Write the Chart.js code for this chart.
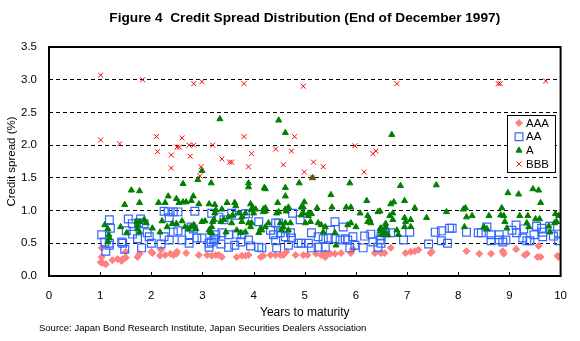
<!DOCTYPE html>
<html>
<head>
<meta charset="utf-8">
<script src="https://cdn.jsdelivr.net/npm/chart.js@4.4.1/dist/chart.umd.min.js"></script>
<style>
  body { margin: 0; background: #fff; }
  #wrap { width: 580px; height: 341px; }
</style>
</head>
<body>
<div id="wrap"><canvas id="chart" width="580" height="341"></canvas></div>
<script>
const chartTitle = 'Figure 4  Credit Spread Distribution (End of December 1997)';
const sourceNote = 'Source: Japan Bond Research Institute, Japan Securities Dealers Association';
const xTitle = 'Years to maturity';
const yTitle = 'Credit spread (%)';
const ratings = ['AAA', 'AA', 'A', 'BBB'];
const yTicks = [0, 0.5, 1.0, 1.5, 2.0, 2.5, 3.0, 3.5];

// [years to maturity, spread %]
const aaaPoints = [
  [1.01,0.21],[1.03,0.43],[1.03,0.29],[1.05,0.20],[1.11,0.18],[1.24,0.24],[1.34,0.26],[1.42,0.23],
  [1.44,0.26],[1.50,0.28],[1.50,0.37],[1.73,0.29],[1.77,0.34],[2.00,0.37],[2.02,0.35],[2.17,0.31],
  [2.19,0.40],[2.27,0.32],[2.37,0.34],[2.43,0.32],[2.49,0.34],[2.50,0.37],[2.68,0.35],[2.93,0.32],
  [3.09,0.32],[3.18,0.31],[3.26,0.32],[3.32,0.32],[3.38,0.29],[3.67,0.29],[3.77,0.31],[3.84,0.31],
  [3.90,0.32],[4.14,0.29],[4.19,0.31],[4.33,0.32],[4.43,0.32],[4.52,0.32],[4.58,0.32],[4.64,0.37],
  [4.82,0.32],[4.97,0.32],[5.05,0.32],[5.22,0.34],[5.32,0.32],[5.40,0.35],[5.40,0.29],[5.50,0.34],
  [5.59,0.34],[5.71,0.35],[5.90,0.35],[5.94,0.41],[6.37,0.35],[6.49,0.35],[6.56,0.35],[6.68,0.43],
  [6.97,0.35],[7.07,0.37],[7.15,0.38],[7.22,0.40],[7.46,0.35],[7.48,0.37],[8.16,0.38],[8.41,0.34],
  [8.64,0.34],[8.87,0.38],[8.89,0.34],[9.13,0.41],[9.30,0.32],[9.34,0.34],[9.55,0.29],[9.57,0.46],
  [9.61,0.29],[9.94,0.31],[9.96,0.29]
];

const aaPoints = [
  [1.03,0.63],[1.09,0.52],[1.11,0.38],[1.18,0.86],[1.18,0.50],[1.18,0.47],[1.20,0.73],[1.42,0.52],
  [1.44,0.50],[1.48,0.41],[1.51,0.69],[1.55,0.87],[1.63,0.80],[1.63,0.64],[1.73,0.57],[1.75,0.81],
  [1.79,0.87],[1.81,0.43],[1.86,0.80],[1.92,0.66],[1.96,0.60],[2.00,0.50],[2.19,0.49],[2.25,0.99],
  [2.25,0.60],[2.33,0.98],[2.35,0.89],[2.35,0.55],[2.43,0.98],[2.43,0.67],[2.52,0.98],[2.52,0.69],
  [2.60,0.55],[2.74,0.50],[2.74,0.63],[2.78,0.75],[2.82,0.72],[2.85,0.99],[2.89,0.58],[2.99,0.58],
  [3.13,0.50],[3.13,0.44],[3.17,0.52],[3.18,0.96],[3.24,0.57],[3.22,0.55],[3.26,0.63],[3.32,0.90],
  [3.36,0.49],[3.38,0.66],[3.42,0.86],[3.51,0.63],[3.51,0.44],[3.57,0.96],[3.63,0.47],[3.67,0.93],
  [3.67,0.64],[3.75,0.52],[3.77,0.63],[3.84,0.95],[3.90,0.95],[3.90,0.55],[3.94,0.46],[4.10,0.83],
  [4.10,0.44],[4.16,0.43],[4.33,0.70],[4.39,0.63],[4.43,0.81],[4.43,0.54],[4.45,0.43],[4.49,0.81],
  [4.52,0.66],[4.62,0.60],[4.68,0.47],[4.72,0.66],[4.74,0.58],[4.76,0.96],[4.87,0.50],[4.91,0.86],
  [4.93,0.50],[5.07,0.50],[5.13,0.66],[5.13,0.43],[5.26,0.60],[5.26,0.44],[5.36,0.57],[5.40,0.44],
  [5.46,0.58],[5.50,0.70],[5.59,0.83],[5.59,0.57],[5.69,0.55],[5.75,0.75],[5.79,0.57],[5.84,0.55],
  [5.88,0.43],[5.94,0.60],[5.98,0.47],[6.14,0.43],[6.17,0.61],[6.29,0.64],[6.33,0.52],[6.43,0.44],
  [6.49,0.50],[6.56,0.66],[6.47,0.55],[6.49,0.61],[6.52,0.67],[6.58,0.66],[6.68,0.66],[6.93,0.55],
  [7.05,0.67],[7.42,0.49],[7.55,0.67],[7.67,0.69],[7.67,0.54],[7.79,0.50],[7.83,0.73],[7.88,0.73],
  [8.16,0.67],[8.39,0.66],[8.45,0.66],[8.56,0.75],[8.64,0.63],[8.64,0.54],[8.80,0.63],[8.80,0.55],
  [8.87,0.52],[8.93,0.55],[9.05,0.70],[9.13,0.78],[9.14,0.66],[9.26,0.58],[9.28,0.72],[9.34,0.54],
  [9.40,0.54],[9.48,0.63],[9.53,0.76],[9.63,0.73],[9.65,0.67],[9.65,0.60],[9.79,0.76],[9.86,0.61],
  [9.96,0.64],[9.96,0.54]
];

const aPoints = [
  [1.61,1.31],[1.77,1.30],[2.62,1.41],[2.91,1.47],[3.34,2.40],[4.49,2.38],[4.62,2.19],[2.99,1.61],
  [3.17,1.42],[3.90,1.42],[3.90,1.36],[4.21,1.35],[4.62,1.35],[4.89,1.42],[5.15,1.50],[5.88,1.42],
  [6.70,2.16],[6.87,1.38],[7.57,1.39],
  [1.48,1.09],[1.77,1.12],[2.14,1.12],[2.27,1.12],[2.33,1.22],[2.49,1.18],[2.54,1.12],[2.62,1.13],
  [2.68,1.13],[2.78,1.15],[2.82,1.22],[2.93,1.10],[3.13,1.10],[3.24,1.09],[3.24,0.96],[1.09,0.78],
  [1.15,0.72],[1.17,0.63],[1.18,0.58],[1.15,0.52],[1.40,0.75],[1.52,0.66],[1.71,0.83],[1.73,0.78],
  [1.77,0.83],[1.86,0.86],[1.90,0.81],[2.02,0.73],[1.77,0.67],[1.73,0.72],[2.17,0.67],[2.21,0.84],
  [2.31,0.75],[2.41,0.80],[2.49,0.80],[2.60,0.84],[2.66,0.75],[2.72,0.72],[2.78,0.75],[2.83,0.78],
  [2.87,0.72],[2.99,0.83],[3.05,0.84],[3.15,0.67],[3.18,0.75],[3.20,0.83],[3.26,1.01],
  [4.23,1.33],[4.62,1.22],[5.51,1.24],[6.21,1.15],[3.38,1.02],[3.48,1.12],[3.63,1.12],[3.65,1.07],
  [3.94,1.10],[3.98,1.05],[4.04,1.02],[4.19,1.02],[4.23,1.04],[4.47,1.12],[4.62,1.02],[4.68,1.05],
  [4.93,1.05],[4.99,1.13],[4.97,1.05],[5.07,0.96],[5.13,0.95],[5.24,1.04],[5.53,1.05],[5.81,1.05],
  [5.90,1.05],[6.08,0.96],[6.23,0.92],[6.27,0.86],[6.43,0.98],[6.47,0.99],[3.22,0.86],[3.36,0.83],
  [3.42,0.86],[3.51,0.90],[3.57,0.81],[3.59,0.93],[3.71,0.96],[3.77,0.90],[3.84,0.96],[3.96,1.01],
  [4.00,0.96],[4.19,0.98],[4.23,0.99],[4.45,0.96],[4.49,0.98],[4.64,0.99],[4.93,0.93],[4.97,0.96],
  [5.07,0.92],[3.77,0.83],[3.90,0.81],[3.94,0.75],[3.96,0.81],[4.14,0.73],[4.23,0.75],[4.29,0.81],
  [4.52,0.81],[4.54,0.70],[4.58,0.75],[4.62,0.81],[4.68,0.70],[4.72,0.81],[5.01,0.81],[5.11,0.83],
  [5.26,0.81],[5.32,0.78],[5.40,0.75],[5.59,0.66],[5.61,0.47],[5.84,0.78],[5.90,0.81],[6.00,0.75],
  [6.23,0.83],[6.29,0.81],[6.47,0.72],[6.49,0.69],[6.56,0.66],[3.13,0.70],[3.18,0.66],[3.46,0.67],
  [3.67,0.70],[3.75,0.66],[3.84,0.67],[4.10,0.66],[4.16,0.70],[5.36,0.67],
  [8.97,1.27],[9.18,1.25],[9.46,1.33],[9.57,1.31],[9.61,1.12],[6.68,1.10],[6.74,1.13],[6.95,1.15],
  [7.15,1.04],[7.77,0.98],[8.10,1.02],[8.14,1.04],[8.85,1.04],[6.66,0.92],[6.72,0.96],[6.72,0.86],
  [6.95,0.89],[6.97,0.83],[7.07,0.86],[6.58,0.80],[7.38,0.89],[8.16,0.90],[8.27,0.92],[8.60,0.92],
  [8.83,0.93],[8.89,0.92],[9.20,0.92],[9.36,0.92],[9.51,0.87],[9.59,0.87],[9.90,0.95],[9.96,0.92],
  [9.88,0.81],[9.92,0.83],[8.12,0.75],[8.50,0.75],[8.56,0.72],[8.91,0.83],[8.95,0.73],[9.34,0.81],
  [9.38,0.75],[9.77,0.76],[9.79,0.67],[6.49,0.73],[6.58,0.75],[6.80,0.70],[6.83,0.63],[6.95,0.75],
  [7.07,0.75],[6.50,0.63],[6.62,0.63]
];

const bbbPoints = [
  [1.01,3.07],[1.83,3.00],[2.83,2.94],[1.01,2.08],[1.38,2.02],[2.10,2.13],[2.12,1.90],[2.39,1.85],
  [2.39,1.65],[2.50,1.97],[2.55,1.97],[2.60,2.11],[2.74,2.00],[2.83,2.00],[2.76,1.83],[2.99,2.97],
  [3.81,2.94],[4.97,2.90],[3.20,2.00],[3.81,2.13],[4.80,2.13],[3.38,1.79],[3.53,1.74],[3.57,1.74],
  [3.96,1.87],[4.43,1.94],[4.74,1.91],[2.97,1.67],[2.95,1.53],[3.90,1.67],[4.58,1.70],[5.17,1.74],
  [5.36,1.67],[4.99,1.59],[5.15,1.50],[5.98,1.99],[6.16,1.59],[6.33,1.87],[6.39,1.91],[6.80,2.94],
  [8.78,2.94],[8.82,2.94],[9.71,2.98]
];

const toXY = (arr) => arr.map(p => ({ x: p[0], y: p[1] }));

const seriesStyle = [
  { style: 'rectRot', radius: 3.5, color: '#ff8080', fill: '#ff8080', width: 1 },
  { style: 'rect', radius: 5.5, color: '#3366ff', fill: 'rgba(0,0,0,0)', width: 1.2 },
  { style: 'triangle', radius: 3.5, color: '#008000', fill: '#008000', width: 1 },
  { style: 'crossRot', radius: 3.5, color: '#ff0000', fill: '#ff0000', width: 1 },
];
const seriesData = [aaaPoints, aaPoints, aPoints, bbbPoints];
const drawOrder = [3, 2, 1, 0];

const fontFamily = 'Arial, "Liberation Sans", sans-serif';

const decor = {
  id: 'decor',
  afterDraw(chart) {
    const { ctx, chartArea: a, scales } = chart;
    ctx.save();
    // frame
    ctx.strokeStyle = '#000';
    ctx.lineWidth = 2;
    ctx.setLineDash([]);
    ctx.strokeRect(a.left, a.top, a.right - a.left, a.bottom - a.top);
    // small inner ticks on x axis
    ctx.lineWidth = 1;
    for (let v = 1; v < 10; v++) {
      const px = Math.round(scales.x.getPixelForValue(v)) + 0.5;
      ctx.beginPath();
      ctx.moveTo(px, a.bottom);
      ctx.lineTo(px, a.bottom - 4);
      ctx.stroke();
    }
    // title
    ctx.fillStyle = '#000';
    ctx.font = 'bold 13.7px ' + fontFamily;
    ctx.textAlign = 'center';
    ctx.textBaseline = 'middle';
    ctx.fillText(chartTitle, (a.left + a.right) / 2, 18);
    // source
    ctx.font = '9.5px ' + fontFamily;
    ctx.textAlign = 'left';
    ctx.fillText(sourceNote, 39, 328);
    // legend box
    const bx = 507, by = 115, bw = 48, bh = 57;
    ctx.fillStyle = '#fff';
    ctx.fillRect(bx, by, bw, bh);
    ctx.strokeStyle = '#000';
    ctx.lineWidth = 1;
    ctx.strokeRect(bx + 0.5, by + 0.5, bw, bh);
    ratings.forEach((r, i) => {
      const cy = by + 8 + i * 13.7;
      const s = seriesStyle[i];
      ctx.strokeStyle = s.color;
      ctx.fillStyle = s.fill;
      ctx.lineWidth = s.width;
      Chart.helpers.drawPoint(ctx, { pointStyle: s.style, radius: s.radius, borderWidth: s.width }, 519, cy);
      ctx.fillStyle = '#000';
      ctx.font = '11.5px ' + fontFamily;
      ctx.textAlign = 'left';
      ctx.textBaseline = 'middle';
      ctx.fillText(r, 526, cy + 0.5);
    });
    ctx.restore();
  }
};

new Chart(document.getElementById('chart'), {
  type: 'scatter',
  data: {
    datasets: ratings.map((r, i) => ({
      label: r,
      data: toXY(seriesData[i]),
      pointStyle: seriesStyle[i].style,
      pointRadius: seriesStyle[i].radius,
      borderColor: seriesStyle[i].color,
      backgroundColor: seriesStyle[i].fill,
      borderWidth: seriesStyle[i].width,
      order: drawOrder[i],
    })),
  },
  options: {
    responsive: false,
    animation: false,
    devicePixelRatio: 1,
    layout: { padding: { top: 47, right: 16, left: 0, bottom: 0 } },
    plugins: {
      legend: { display: false },
      tooltip: { enabled: false },
    },
    scales: {
      x: {
        type: 'linear',
        min: 0,
        max: 10,
        afterFit: (s) => { s.height = 65; },
        ticks: {
          stepSize: 1,
          padding: 13,
          color: '#000',
          font: { family: fontFamily, size: 11.5 },
        },
        grid: { display: false, drawTicks: false },
        border: { display: false },
        title: {
          display: true,
          text: xTitle,
          color: '#000',
          font: { family: fontFamily, size: 12 },
          padding: { top: 0, bottom: 21 },
        },
      },
      y: {
        type: 'linear',
        min: 0,
        max: 3.5,
        afterFit: (s) => { s.width = 49; },
        afterBuildTicks: (s) => { s.ticks = yTicks.map(v => ({ value: v })); },
        ticks: {
          padding: 12,
          color: '#000',
          font: { family: fontFamily, size: 11.5 },
          callback: (v) => v.toFixed(1),
        },
        grid: {
          drawTicks: false,
          color: (c) => (c.tick && c.tick.value > 0 && c.tick.value < 3.5) ? '#000' : 'rgba(0,0,0,0)',
          lineWidth: 1,
        },
        border: { display: false, dash: [4, 3] },
        title: {
          display: true,
          text: yTitle,
          color: '#000',
          font: { family: fontFamily, size: 11.5 },
          padding: { top: 5, bottom: 0 },
        },
      },
    },
  },
  plugins: [decor],
});
</script>
</body>
</html>
